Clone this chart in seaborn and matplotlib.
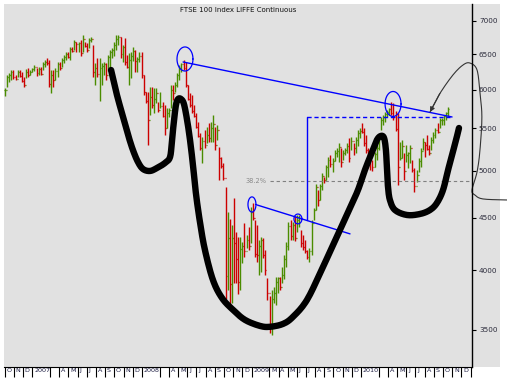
import numpy as np
import pandas as pd
import matplotlib
matplotlib.use("Agg")
import matplotlib.pyplot as plt
from matplotlib.patches import Rectangle
from matplotlib.ticker import FixedLocator, FixedFormatter, NullLocator
import matplotlib.transforms as mtrans
import seaborn as sns

# weekly bars of the FTSE 100 LIFFE continuous contract
start = pd.Timestamp("2006-10-02")
weeks = pd.date_range(start, periods=212, freq="7D")

highs = [6020, 6200, 6230, 6270, 6270, 6200, 6270, 6270, 6250, 6170,
         6290, 6300, 6270, 6300, 6340, 6300, 6310, 6310, 6390, 6410,
         6440, 6410, 6270, 6270, 6300, 6390, 6390, 6440, 6490, 6530,
         6530, 6600, 6600, 6710, 6680, 6680, 6710, 6780, 6680, 6660,
         6740, 6750, 6630, 6370, 6440, 6440, 6370, 6390, 6370, 6490,
         6560, 6590, 6680, 6780, 6780, 6750, 6630, 6740, 6490, 6510,
         6530, 6600, 6560, 6460, 6530, 6530, 6200, 5970, 5970, 6040,
         6040, 6020, 6020, 5840, 5970, 5840, 5800, 5760, 5760, 6060,
         6060, 6100, 6230, 6340, 6370, 6410, 6390, 6060, 5960, 5930,
         5800, 5690, 5580, 5450, 5400, 5480, 5520, 5570, 5580, 5670,
         5520, 5540, 5280, 5160, 5090, 4820, 4560, 4490, 4430, 4710,
         4360, 4310, 4310, 4260, 4450, 4330, 4410, 4610, 4650, 4480,
         4430, 4280, 4310, 4300, 4190, 3930, 3780, 3830, 3850, 3940,
         3940, 3940, 4030, 4140, 4260, 4460, 4480, 4460, 4520, 4530,
         4530, 4380, 4330, 4280, 4190, 4210, 4480, 4600, 4860, 4790,
         4860, 4980, 4930, 5070, 5160, 5180, 5150, 5240, 5270, 5320,
         5260, 5240, 5270, 5320, 5380, 5400, 5320, 5400, 5480, 5510,
         5570, 5510, 5420, 5260, 5190, 5130, 5220, 5300, 5420, 5640,
         5670, 5710, 5730, 5760, 5840, 5820, 5720, 5700, 5340, 5360,
         5210, 5300, 5220, 5300, 5130, 5030, 5010, 5150, 5260, 5380,
         5340, 5420, 5300, 5400, 5460, 5510, 5570, 5630, 5630, 5670,
         5710, 5770]
lows = [5920, 6030, 6110, 6130, 6140, 6130, 6180, 6170, 6100, 6030,
        6160, 6170, 6200, 6240, 6260, 6190, 6200, 6200, 6270, 6310,
        6340, 6030, 5960, 6040, 6130, 6180, 6270, 6310, 6370, 6410,
        6440, 6410, 6530, 6560, 6530, 6530, 6470, 6530, 6600, 6530,
        6590, 6680, 6180, 6060, 6180, 5850, 6060, 6200, 6130, 6260,
        6300, 6440, 6470, 6560, 6630, 6440, 6380, 6340, 6300, 6060,
        6160, 6400, 6240, 6240, 6390, 6160, 5930, 5820, 5300, 5670,
        5760, 5690, 5820, 5710, 5760, 5640, 5420, 5510, 5640, 5760,
        5860, 5970, 6040, 6130, 6240, 6270, 6030, 5860, 5770, 5700,
        5640, 5500, 5390, 5240, 5090, 5260, 5320, 5340, 5330, 5340,
        5240, 5360, 4900, 5030, 4900, 3750, 3830, 3690, 3720, 3890,
        3890, 3790, 3830, 4070, 4120, 4210, 4190, 4250, 4480, 4120,
        4080, 3960, 3990, 4110, 3960, 3740, 3480, 3460, 3720, 3700,
        3800, 3830, 3890, 3920, 4030, 4190, 4280, 4280, 4270, 4360,
        4410, 4220, 4190, 4160, 4100, 4080, 4140, 4480, 4580, 4620,
        4690, 4790, 4870, 4900, 4930, 5040, 4990, 5110, 5160, 5100,
        5050, 5130, 5180, 5210, 5100, 5240, 5180, 5210, 5290, 5380,
        5450, 5290, 5210, 5150, 5010, 5000, 5050, 5130, 5240, 5480,
        5540, 5580, 5640, 5670, 5670, 5610, 5470, 4840, 5130, 5150,
        4900, 5100, 5030, 5090, 4990, 4770, 4880, 4990, 5040, 5240,
        5160, 5240, 5180, 5240, 5320, 5380, 5450, 5510, 5540, 5540,
        5610, 5640]
closes = [5990, 6170, 6200, 6240, 6180, 6150, 6250, 6190, 6120, 6060,
          6250, 6200, 6240, 6280, 6320, 6230, 6290, 6220, 6360, 6390,
          6370, 6080, 6200, 6130, 6260, 6350, 6300, 6410, 6460, 6500,
          6460, 6570, 6540, 6680, 6650, 6670, 6520, 6730, 6620, 6560,
          6710, 6730, 6250, 6300, 6220, 6300, 6330, 6360, 6200, 6450,
          6530, 6560, 6640, 6730, 6750, 6500, 6600, 6380, 6320, 6420,
          6470, 6550, 6400, 6430, 6470, 6200, 5970, 5850, 5600, 5900,
          5800, 5880, 5950, 5730, 5790, 5660, 5500, 5700, 5730, 6000,
          5960, 6070, 6200, 6300, 6350, 6300, 6060, 5880, 5800, 5720,
          5660, 5520, 5410, 5270, 5350, 5300, 5420, 5380, 5500, 5560,
          5300, 5480, 5150, 5060, 4920, 3950, 4300, 3880, 4300, 4250,
          4100, 3900, 4200, 4230, 4180, 4280, 4230, 4560, 4500, 4150,
          4140, 4230, 4280, 4140, 4000, 3800, 3550, 3750, 3800, 3900,
          3930, 3850, 3960, 4100, 4230, 4420, 4320, 4430, 4300, 4480,
          4500, 4250, 4220, 4180, 4120, 4180, 4450, 4580, 4820, 4680,
          4830, 4940, 4900, 5040, 5130, 5080, 5110, 5200, 5230, 5280,
          5100, 5200, 5240, 5290, 5150, 5350, 5270, 5360, 5440, 5470,
          5460, 5320, 5240, 5170, 5160, 5050, 5190, 5270, 5400, 5600,
          5640, 5680, 5710, 5740, 5700, 5640, 5490, 5050, 5150, 5290,
          5000, 5180, 5200, 5260, 5010, 4830, 4960, 5110, 5230, 5340,
          5300, 5250, 5200, 5360, 5420, 5480, 5460, 5600, 5610, 5650,
          5690, 5740]

ytick_values = [3500, 4000, 4500, 5000, 5500, 6000, 6500, 7000]

month_starts = pd.date_range("2006-10-01", "2011-01-01", freq="MS")
# None = no separator drawn for that month
month_labels = ["O", "N", "D",
                "2007", None, "", "A", "M", "J", "J", "A", "S", "O", "N", "D",
                "2008", None, "", "A", "M", "J", "J", "A", "S", "O", "N", "D",
                "2009", None, "M", "A", "M", "J", "J", "A", "S", "O", "N", "D",
                "2010", None, "", "A", "M", "J", "J", "A", "S", "O", "N", "D",
                ""]

# hand drawn annotations, in (week number, price)
cup_w = [50.5, 53.3, 56.2, 58.6, 60.9, 63.3, 65.7, 69.0, 72.4, 76.2, 78.6,
         79.5, 80.5, 81.4, 82.4, 83.8, 85.2, 86.7, 88.1, 89.5, 91.0, 92.9,
         95.2, 99.0, 103.3, 108.6, 114.3, 121.4, 126.2, 132.4, 137.1, 143.8,
         151.4, 159.5, 164.3, 168.1, 171.4, 174.8, 177.1, 179.0, 180.5, 181.4,
         181.9, 182.4, 183.3, 185.7, 191.4, 197.6, 202.4, 205.7, 208.6, 211.0,
         212.9, 214.8, 216.2]
cup_p = [6271, 5929, 5644, 5421, 5241, 5102, 5022, 5000, 5034, 5091, 5160,
         5360, 5606, 5798, 5876, 5876, 5811, 5606, 5360, 5068, 4738, 4449,
         4188, 3916, 3761, 3661, 3580, 3532, 3525, 3548, 3604, 3744,
         4031, 4380, 4602, 4791, 5011, 5218, 5360, 5409, 5385, 5241,
         5011, 4823, 4685, 4581, 4530, 4540, 4581, 4654, 4791, 5011,
         5183, 5360, 5506]
arrow_w = [202.4, 207.1, 213.3, 218.1, 221.4, 224.8, 226.2, 227.1, 226.2,
           224.8, 222.4, 223.8, 227.6, 239.0]
arrow_p = [5707, 5949, 6201, 6342, 6370, 6271, 5949, 5644, 5241,
           4989, 4791, 4738, 4696, 4685]
neck_w, neck_p = [84.8, 212.9], [6385, 5644]
trend_w, trend_p = [120.0, 164.3], [4633, 4342]
box_w, box_p = [143.8, 212.9], [5644, 5644]
fib_w, fib_p = [126.2, 222.4], [4892, 4892]
rings = [(85.7, 6428, 3.8, 0.027), (184.8, 5811, 3.8, 0.028),
         (117.6, 4638, 1.9, 0.017), (139.5, 4490, 1.9, 0.011)]

green, red, bg = "#4a8c00", "#cc0000", "#e1e1e1"


def smooth(ws, ps, n=10):
    # catmull-rom through the hand drawn points (log price, roughly pixel scaled)
    pts = np.column_stack([np.asarray(ws) * 2.1, np.log(ps) * 445.8])
    pts = np.vstack([pts[0], pts, pts[-1]])
    out = []
    for i in range(1, len(pts) - 2):
        p0, p1, p2, p3 = pts[i - 1], pts[i], pts[i + 1], pts[i + 2]
        for s in np.linspace(0, 1, n, endpoint=False):
            out.append(0.5 * (2 * p1 + (p2 - p0) * s
                              + (2 * p0 - 5 * p1 + 4 * p2 - p3) * s ** 2
                              + (3 * p1 - p0 - 3 * p2 + p3) * s ** 3))
    out.append(pts[-2])
    out = np.array(out)
    return out[:, 0] / 2.1, np.exp(out[:, 1] / 445.8)


sns.set_style("white")
fig = plt.figure(figsize=(5.07, 3.84), dpi=100)
fig.add_artist(Rectangle((472 / 507, 17 / 384), 28 / 507, 363 / 384,
                         transform=fig.transFigure, facecolor=bg,
                         edgecolor="none", zorder=-1))
ax = fig.add_axes([4 / 507, 17 / 384, 468 / 507, 363 / 384])
ax.set_facecolor(bg)

x = ((weeks - start).days / 7).to_numpy(dtype=float)
highs, lows, closes = map(np.asarray, (highs, lows, closes))
opens = np.r_[closes[0], closes[:-1]]  # open taken as previous close
cols = np.where(closes >= opens, green, red)
ax.vlines(x, lows, highs, colors=cols, lw=1.0)
ax.hlines(opens, x - 0.45, x, colors=cols, lw=0.9)
ax.hlines(closes, x, x + 0.45, colors=cols, lw=0.9)

# annotations
ax.plot(fib_w, fib_p, color="#808080", lw=0.8, dashes=(3, 2.5))
ax.text(124.5, fib_p[0], "38.2%", ha="right", va="center", fontsize=4.8,
        color="#8a8a8a")
sns.lineplot(x=neck_w, y=neck_p, color="blue", lw=1.0, ax=ax)
sns.lineplot(x=trend_w, y=trend_p, color="blue", lw=1.0, ax=ax)
ax.plot(box_w, box_p, color="blue", lw=1.0, dashes=(3, 2))
ax.plot([box_w[0], box_w[0]], [box_p[0], 4479], color="blue", lw=1.0)
t = np.linspace(0, 2 * np.pi, 80)
for cw, cp, a, b in rings:
    ax.plot(cw + a * np.cos(t), cp * np.exp(b * np.sin(t)), color="blue", lw=0.9)

cw_s, cp_s = smooth(cup_w, cup_p)
sns.lineplot(x=cw_s, y=cp_s, sort=False, estimator=None, color="black",
             lw=4.6, ax=ax)
ax.lines[-1].set_solid_capstyle("round")
ax.lines[-1].set_solid_joinstyle("round")
aw_s, ap_s = smooth(arrow_w, arrow_p)
sns.lineplot(x=aw_s, y=ap_s, sort=False, estimator=None,
             color="#333333", lw=0.8, ax=ax)
ax.lines[-1].set_clip_on(False)
ax.annotate("", xy=(arrow_w[0], arrow_p[0]), xytext=(arrow_w[1], arrow_p[1]),
            arrowprops=dict(arrowstyle="-|>", color="#333333", lw=0.8,
                            mutation_scale=7, shrinkA=0, shrinkB=0))

# axes
ax.set_yscale("log")
ax.set_ylim(3221, 7272)
ax.set_xlim(-0.5, 222.4)
ax.yaxis.set_major_locator(FixedLocator(ytick_values))
ax.yaxis.set_major_formatter(FixedFormatter([str(v) for v in ytick_values]))
ax.yaxis.set_minor_locator(NullLocator())
ax.yaxis.tick_right()
ax.tick_params(axis="y", right=True, length=3, width=0.8, pad=2, labelsize=5.2,
               labelcolor="#2a2a3a", color="black")

pos = [(m - start).days / 7 for m, lab in zip(month_starts, month_labels) if lab is not None]
labs = [lab for lab in month_labels if lab is not None]
ax.set_xticks(pos)
ax.set_xticklabels(labs, ha="left")
ax.xaxis.set_minor_locator(NullLocator())
ax.tick_params(axis="x", bottom=True, direction="out", length=7.5, width=0.8,
               pad=-6.8, labelsize=4.6, labelcolor="#1a1a40", color="black")
shift = mtrans.ScaledTranslation(1.3 / 72, 0, fig.dpi_scale_trans)
for lab in ax.get_xticklabels():
    lab.set_transform(lab.get_transform() + shift)

for side in ("top", "left"):
    ax.spines[side].set_visible(False)
ax.spines["right"].set_color("black")
ax.spines["right"].set_linewidth(1.0)
ax.spines["bottom"].set_color("black")
ax.spines["bottom"].set_linewidth(0.8)

fig.text(238 / 507, 1 - 10 / 384, "FTSE 100 Index LIFFE Continuous",
         ha="center", va="center", fontsize=5.0, color="#111111")

fig.savefig("out.png", dpi=100)
